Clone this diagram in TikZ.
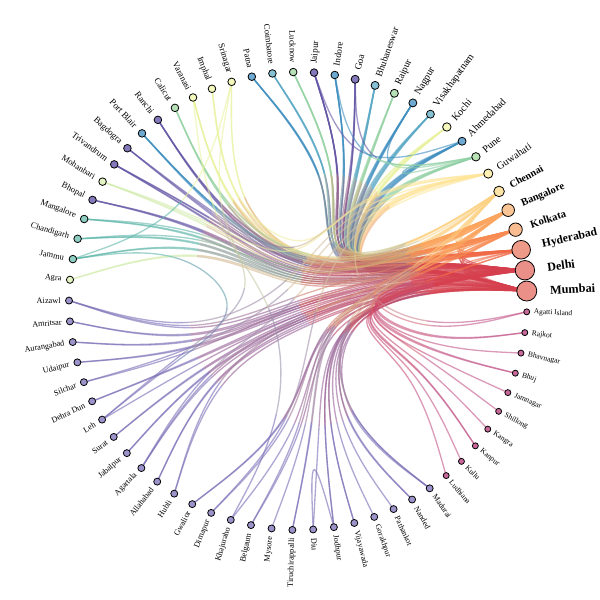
\documentclass[tikz,border=0pt]{standalone}
\usepackage{fontspec}
\setmainfont{Liberation Serif}
\pgfdeclarelayer{back}
\pgfdeclarelayer{edges}
\pgfsetlayers{back,edges,main}
% edge colours (p..) and node fills (f..)
\definecolor{pR}{HTML}{D6404E}\definecolor{fR}{HTML}{EB9089}
\definecolor{pHy}{HTML}{F06A48}\definecolor{fHy}{HTML}{EE9A88}
\definecolor{pKo}{HTML}{F88B51}\definecolor{fKo}{HTML}{F9BC90}
\definecolor{pBa}{HTML}{FBA55E}\definecolor{fBa}{HTML}{FAC596}
\definecolor{pCh}{HTML}{FDD283}\definecolor{fCh}{HTML}{FDE3A6}
\definecolor{pGu}{HTML}{FEE598}\definecolor{fGu}{HTML}{FDF0B2}
\definecolor{pPu}{HTML}{8FD0A4}\definecolor{fPu}{HTML}{B9E2B5}
\definecolor{pBl}{HTML}{3F8FC0}\definecolor{fBl}{HTML}{6DA9D1}
\definecolor{pKy}{HTML}{E9F29A}\definecolor{fKy}{HTML}{F6F8BE}
\definecolor{pLb}{HTML}{5BA9C6}\definecolor{fLb}{HTML}{86C1D3}
\definecolor{pLg}{HTML}{98D4A6}\definecolor{fLg}{HTML}{B6E0B6}
\definecolor{pPp}{HTML}{6556A6}\definecolor{fPp}{HTML}{8477BA}
\definecolor{pPy}{HTML}{EAF3A0}\definecolor{fPy}{HTML}{F5F8BC}
\definecolor{pPg}{HTML}{D2ECAC}\definecolor{fPg}{HTML}{E3F3C3}
\definecolor{pTe}{HTML}{5FB7AA}\definecolor{fTe}{HTML}{8ECDC2}
\definecolor{pLa}{HTML}{7B6DB6}\definecolor{fLa}{HTML}{9D93CB}
\definecolor{pPk}{HTML}{C4588A}\definecolor{fPk}{HTML}{C7689A}
\tikzset{
  city/.style={circle, draw=black, line width=0.45pt, inner sep=0pt},
  lbl/.style={inner sep=0pt, text=black},
  link/.style={line width=0.75pt, draw opacity=0.6},
}
\begin{document}
\begin{tikzpicture}
\useasboundingbox (-5.96,-5.98) rectangle (6.04,6.02);
\begin{pgfonlayer}{back}
\fill[white] (-5.96,-5.98) rectangle (6.04,6.02);
\end{pgfonlayer}
\foreach \i/\nm/\col/\rad/\fs/\w in {
0/Mumbai/R/10/7.0/b, 1/Delhi/R/9.7/6.9/b, 2/Hyderabad/Hy/9.3/6.6/b,
3/Kolkata/Ko/6.7/6.1/b, 4/Bangalore/Ba/6.3/6.0/b, 5/Chennai/Ch/5.3/5.8/b,
6/Guwahati/Gu/4.6/5.8/n, 7/Pune/Pu/4.2/5.8/n, 8/Ahmedabad/Bl/4.0/5.8/n,
9/Kochi/Ky/4.2/5.8/n, 10/Visakhapatnam/Lb/4.0/5.8/n, 11/Nagpur/Bl/4.0/5.8/n,
12/Raipur/Lg/4.0/5.6/n, 13/Bhubaneswar/Lb/4.0/5.4/n, 14/Goa/Pp/4.0/5.4/n,
15/Indore/Bl/3.8/5.2/n, 16/Jaipur/Pp/3.8/5.2/n, 17/Lucknow/Lg/3.8/4.9/n,
18/Coimbatore/Lb/3.8/4.9/n, 19/Patna/Bl/3.8/4.9/n, 20/Srinagar/Py/3.8/5.1/n,
21/Imphal/Py/3.8/5.0/n, 22/Varanasi/Py/3.8/5.0/n, 23/Calicut/Lg/3.8/5.0/n,
24/Ranchi/Pp/3.8/5.1/n, 25/Port Blair/Bl/3.8/5.2/n, 26/Bagdogra/Pp/3.8/5.1/n,
27/Trivandrum/Pp/3.8/5.1/n, 28/Mohanbari/Pg/3.8/4.9/n, 29/Bhopal/Pp/3.8/4.9/n,
30/Mangalore/Te/3.8/4.9/n, 31/Chandigarh/Te/3.8/4.8/n, 32/Jammu/Te/3.8/4.8/n,
33/Agra/Pg/3.6/4.7/n, 34/Aizawl/La/3.5/4.7/n, 35/Amritsar/La/3.5/4.7/n,
36/Aurangabad/La/3.5/4.7/n, 37/Udaipur/La/3.5/4.7/n, 38/Silchar/La/3.5/4.7/n,
39/Dehra Dun/La/3.5/4.7/n, 40/Leh/La/3.5/4.7/n, 41/Surat/La/3.5/4.7/n,
42/Jabalpur/La/3.5/4.7/n, 43/Agartala/La/3.5/4.7/n, 44/Allahabad/La/3.5/4.7/n,
45/Hubli/La/3.5/4.7/n, 46/Gwalior/La/3.5/4.7/n, 47/Dimapur/La/3.5/4.7/n,
48/Khajuraho/La/3.5/4.7/n, 49/Belgaum/La/3.5/4.7/n, 50/Mysore/La/3.5/4.7/n,
51/Tiruchirappalli/La/3.5/4.7/n, 52/Diu/La/3.5/4.7/n, 53/Jodhpur/La/3.5/4.6/n,
54/Vijayawada/La/3.5/4.5/n, 55/Gorakhpur/La/3.5/4.5/n, 56/Pathankot/La/3.5/4.5/n,
57/Nanded/La/3.5/4.5/n, 58/Madurai/La/3.5/4.5/n, 59/Ludhiana/Pk/3.0/4.3/n,
60/Kullu/Pk/3.0/4.3/n, 61/Kanpur/Pk/3.0/4.3/n, 62/Kangra/Pk/3.0/4.3/n,
63/Shillong/Pk/3.0/4.3/n, 64/Jamnagar/Pk/3.0/4.3/n, 65/Bhuj/Pk/3.0/4.3/n,
66/Bhavnagar/Pk/3.0/4.3/n, 67/Rajkot/Pk/3.0/4.3/n, 68/Agatti Island/Pk/3.0/4.2/n}{
  \pgfmathsetmacro\ang{2.5+5.217391*\i}
  \pgfmathsetmacro\dia{0.04*\rad}
  \pgfmathsetmacro\rr{4.58+0.046*\rad}
  \pgfmathtruncatemacro\flip{and(\ang>90,\ang<270)}
  \node[city, fill=f\col, minimum size=\dia cm] (n\i) at (\ang:4.58) {};
  \ifnum\flip=1
    \pgfmathsetmacro\rot{\ang-180}
    \node[lbl, anchor=east, rotate=\rot] (l\i) at (\ang:\rr)
      {\fontsize{\fs}{\fs}\selectfont\if b\w\bfseries\fi \nm};
  \else
    \node[lbl, anchor=west, rotate=\ang] (l\i) at (\ang:\rr)
      {\fontsize{\fs}{\fs}\selectfont\if b\w\bfseries\fi \nm};
  \fi
  \expandafter\xdef\csname pal\i\endcsname{\col}
}
\def\bt{0.78}
\begin{pgfonlayer}{edges}
\foreach \ea/\eb in {
1/0,2/0,2/1,3/0,3/1,3/2,4/0,4/1,4/2,4/3,5/0,5/1,5/2,5/3,5/4,
6/0,6/1,6/2,6/3,6/4,
7/1,7/2,7/3,7/4,7/5,
8/0,8/1,8/2,8/3,8/4,8/5,8/7,
9/0,9/1,9/2,9/4,9/5,
10/0,10/1,10/2,10/3,10/4,10/5,
11/0,11/1,11/2,11/3,11/4,11/7,
12/0,12/1,12/2,12/3,12/4,
13/0,13/1,13/2,13/3,13/4,13/5,
14/0,14/1,14/2,14/4,14/7,
15/0,15/1,15/2,15/4,15/7,
16/0,16/1,16/2,16/3,16/4,16/8,
17/0,17/1,17/2,17/3,17/4,
18/0,18/1,18/4,18/5,
19/0,19/1,19/3,19/4,
20/0,20/1,
21/1,21/3,21/6,
22/0,22/1,22/2,22/4,
23/0,23/1,23/4,23/5,
24/0,24/1,24/3,24/4,
25/1,25/3,25/4,25/5,
26/1,26/3,26/6,
27/0,27/1,27/4,27/5,
28/1,28/3,28/6,
29/0,29/1,29/2,
30/0,30/1,30/4,
31/0,31/1,31/4,
32/0,32/1,32/20,
33/0,33/1,
34/1,34/3,34/6,
35/0,35/1,
36/0,36/1,
37/0,37/1,
38/3,38/6,
39/0,39/1,
40/1,40/20,40/32,
41/0,41/1,
42/0,42/1,
43/1,43/3,43/6,
44/0,44/1,
45/0,45/4,
46/0,46/1,
47/3,47/6,
48/1,48/22,
49/0,49/4,
50/4,
51/4,51/5,
52/0,
53/0,53/1,53/52,
54/1,54/2,
55/1,
56/1,
57/0,57/2,
58/0,58/4,58/5,
59/1,60/1,61/0,61/1,62/1,63/3,64/0,65/0,65/1,66/0,67/0,67/1,68/4,68/9}{
  \pgfmathsetmacro\ta{2.5+5.217391*\ea}
  \pgfmathsetmacro\tb{2.5+5.217391*\eb}
  \pgfmathtruncatemacro\ga{\ea<6?1:(\ea<20?2:(\ea<34?3:(\ea<46?4:(\ea<59?5:6))))}
  \pgfmathtruncatemacro\gb{\eb<6?1:(\eb<20?2:(\eb<34?3:(\eb<46?4:(\eb<59?5:6))))}
  \pgfmathsetmacro\pa{\ga==1?15.54:(\ga==2?67.7:(\ga==3?140.8:(\ga==4?208.6:(\ga==5?273.8:333.8))))}
  \pgfmathsetmacro\pb{\gb==1?15.54:(\gb==2?67.7:(\gb==3?140.8:(\gb==4?208.6:(\gb==5?273.8:333.8))))}
  \pgfmathsetmacro\Ax{4.58*cos(\ta)}\pgfmathsetmacro\Ay{4.58*sin(\ta)}
  \pgfmathsetmacro\Bx{4.58*cos(\tb)}\pgfmathsetmacro\By{4.58*sin(\tb)}
  \edef\ca{p\csname pal\ea\endcsname}
  \edef\cb{p\csname pal\eb\endcsname}
  \ifnum\ga=\gb
    \pgfmathsetmacro\Px{\bt*2.29*cos(\pa)+(1-\bt)*(0.5*\Ax+0.5*\Bx)}
    \pgfmathsetmacro\Py{\bt*2.29*sin(\pa)+(1-\bt)*(0.5*\Ay+0.5*\By)}
    \pgfmathsetmacro\Mx{(\Ax+4*\Px+\Bx)/6}\pgfmathsetmacro\My{(\Ay+4*\Py+\By)/6}
    \draw[link, draw=\ca] (n\ea.center) -- ({(5*\Ax+\Px)/6},{(5*\Ay+\Py)/6})
      .. controls ({(2*\Ax+\Px)/3},{(2*\Ay+\Py)/3}) and ({(\Ax+2*\Px)/3},{(\Ay+2*\Py)/3}) .. (\Mx,\My);
    \draw[link, draw=\cb] (\Mx,\My)
      .. controls ({(2*\Px+\Bx)/3},{(2*\Py+\By)/3}) and ({(\Px+2*\Bx)/3},{(\Py+2*\By)/3})
      .. ({(\Px+5*\Bx)/6},{(\Py+5*\By)/6}) -- (n\eb.center);
  \else
    \pgfmathsetmacro\Px{\bt*2.29*cos(\pa)+(1-\bt)*(0.75*\Ax+0.25*\Bx)}
    \pgfmathsetmacro\Py{\bt*2.29*sin(\pa)+(1-\bt)*(0.75*\Ay+0.25*\By)}
    \pgfmathsetmacro\Qx{(1-\bt)*(0.5*\Ax+0.5*\Bx)}
    \pgfmathsetmacro\Qy{(1-\bt)*(0.5*\Ay+0.5*\By)}
    \pgfmathsetmacro\Rx{\bt*2.29*cos(\pb)+(1-\bt)*(0.25*\Ax+0.75*\Bx)}
    \pgfmathsetmacro\Ry{\bt*2.29*sin(\pb)+(1-\bt)*(0.25*\Ay+0.75*\By)}
    \pgfmathsetmacro\Ex{(\Ax+4*\Px+\Qx)/6}\pgfmathsetmacro\Ey{(\Ay+4*\Py+\Qy)/6}
    \pgfmathsetmacro\Fx{(\Px+4*\Qx+\Rx)/6}\pgfmathsetmacro\Fy{(\Py+4*\Qy+\Ry)/6}
    \pgfmathsetmacro\Gx{(\Qx+4*\Rx+\Bx)/6}\pgfmathsetmacro\Gy{(\Qy+4*\Ry+\By)/6}
    \draw[link, draw=\ca] (n\ea.center) -- ({(5*\Ax+\Px)/6},{(5*\Ay+\Py)/6})
      .. controls ({(2*\Ax+\Px)/3},{(2*\Ay+\Py)/3}) and ({(\Ax+2*\Px)/3},{(\Ay+2*\Py)/3}) .. (\Ex,\Ey);
    \draw[link, draw=\ca!70!\cb] (\Ex,\Ey)
      .. controls ({(2*\Px+\Qx)/3},{(2*\Py+\Qy)/3}) and ({(\Px+2*\Qx)/3},{(\Py+2*\Qy)/3}) .. (\Fx,\Fy);
    \draw[link, draw=\ca!30!\cb] (\Fx,\Fy)
      .. controls ({(2*\Qx+\Rx)/3},{(2*\Qy+\Ry)/3}) and ({(\Qx+2*\Rx)/3},{(\Qy+2*\Ry)/3}) .. (\Gx,\Gy);
    \draw[link, draw=\cb] (\Gx,\Gy)
      .. controls ({(2*\Rx+\Bx)/3},{(2*\Ry+\By)/3}) and ({(\Rx+2*\Bx)/3},{(\Ry+2*\By)/3})
      .. ({(\Rx+5*\Bx)/6},{(\Ry+5*\By)/6}) -- (n\eb.center);
  \fi
}
\end{pgfonlayer}
\end{tikzpicture}
\end{document}
